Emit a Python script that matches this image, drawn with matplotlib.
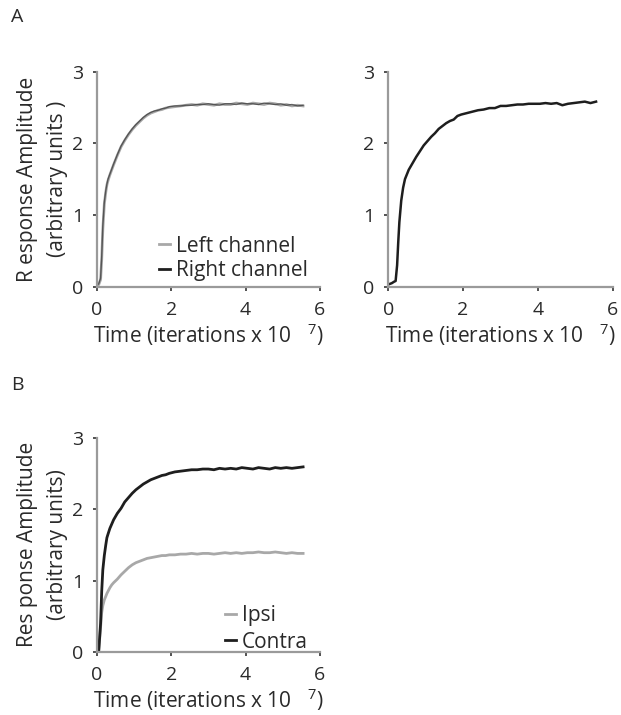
import matplotlib
matplotlib.use('Agg')
import matplotlib.pyplot as plt

plt.rcParams['font.family'] = ['Open Sans', 'DejaVu Sans']
plt.rcParams['mathtext.fontset'] = 'custom'
plt.rcParams['mathtext.rm'] = 'Open Sans'

# time points (iterations x 10^7), shared by all curves
t = [0.0, 0.05, 0.1, 0.13, 0.16, 0.2, 0.24, 0.27, 0.3, 0.35,
     0.4, 0.45, 0.55, 0.65, 0.75, 0.85, 0.95, 1.05, 1.15, 1.25,
     1.35, 1.45, 1.55, 1.65, 1.75, 1.85, 1.95, 2.1, 2.25, 2.4,
     2.55, 2.7, 2.85, 3.0, 3.15, 3.3, 3.45, 3.6, 3.75, 3.9,
     4.05, 4.2, 4.35, 4.5, 4.65, 4.8, 4.95, 5.1, 5.25, 5.4,
     5.55]

# panel A, left: left / right channel
a_left = [0.02, 0.03, 0.10, 0.38, 0.80, 1.15, 1.32, 1.42, 1.48, 1.56,
          1.63, 1.70, 1.83, 1.95, 2.04, 2.12, 2.19, 2.25, 2.30, 2.35,
          2.39, 2.42, 2.44, 2.46, 2.47, 2.49, 2.50, 2.51, 2.52, 2.53,
          2.54, 2.53, 2.55, 2.54, 2.53, 2.55, 2.54, 2.54, 2.56, 2.55,
          2.54, 2.56, 2.55, 2.54, 2.56, 2.55, 2.53, 2.54, 2.52, 2.53,
          2.52]
a_right = [0.02, 0.04, 0.12, 0.42, 0.85, 1.18, 1.34, 1.43, 1.50, 1.57,
           1.64, 1.71, 1.84, 1.96, 2.05, 2.13, 2.20, 2.26, 2.31, 2.36,
           2.40, 2.43, 2.45, 2.46, 2.48, 2.49, 2.51, 2.52, 2.52, 2.53,
           2.53, 2.54, 2.54, 2.55, 2.54, 2.53, 2.55, 2.55, 2.54, 2.56,
           2.55, 2.55, 2.54, 2.56, 2.55, 2.54, 2.55, 2.53, 2.54, 2.52,
           2.53]

# panel A, right
a2 = [0.03, 0.04, 0.05, 0.06, 0.07, 0.08, 0.30, 0.62, 0.90, 1.20,
      1.38, 1.50, 1.63, 1.72, 1.81, 1.89, 1.97, 2.03, 2.09, 2.14,
      2.20, 2.24, 2.28, 2.31, 2.33, 2.38, 2.40, 2.42, 2.44, 2.46,
      2.47, 2.49, 2.49, 2.52, 2.52, 2.53, 2.54, 2.54, 2.55, 2.55,
      2.55, 2.56, 2.55, 2.56, 2.53, 2.55, 2.56, 2.57, 2.58, 2.56,
      2.58]

# panel B: ipsi / contra
ipsi = [0.0, 0.02, 0.35, 0.55, 0.65, 0.73, 0.78, 0.82, 0.85, 0.90,
        0.94, 0.97, 1.02, 1.08, 1.13, 1.18, 1.22, 1.25, 1.27, 1.29,
        1.31, 1.32, 1.33, 1.34, 1.35, 1.35, 1.36, 1.36, 1.37, 1.37,
        1.38, 1.37, 1.38, 1.38, 1.37, 1.38, 1.39, 1.38, 1.39, 1.38,
        1.39, 1.39, 1.40, 1.39, 1.39, 1.40, 1.39, 1.38, 1.39, 1.38,
        1.38]
contra = [0.0, 0.02, 0.40, 0.85, 1.15, 1.35, 1.50, 1.60, 1.65, 1.73,
          1.79, 1.85, 1.94, 2.01, 2.10, 2.16, 2.22, 2.27, 2.31, 2.35,
          2.38, 2.41, 2.43, 2.45, 2.47, 2.48, 2.50, 2.52, 2.53, 2.54,
          2.55, 2.55, 2.56, 2.56, 2.55, 2.57, 2.56, 2.57, 2.56, 2.58,
          2.57, 2.56, 2.58, 2.57, 2.56, 2.58, 2.57, 2.58, 2.57, 2.58,
          2.59]

xticks = [0, 2, 4, 6]
yticks = [0, 1, 2, 3]
xlab = r'Time (iterations x 10   $^{7}$)'

GRAY = '#a8a8a8'
BLACK = '#1e1e1e'
TXT = '#2a2a2a'
FS = 15


def style(ax):
    ax.set_xlim(0, 6)
    ax.set_ylim(0, 3)
    ax.set_xticks(xticks)
    ax.set_yticks(yticks)
    for s in ['top', 'right']:
        ax.spines[s].set_visible(False)
    for s in ['left', 'bottom']:
        ax.spines[s].set_color('#9a9a9a')
        ax.spines[s].set_linewidth(1.6)
    ax.tick_params(direction='out', length=3, width=1.2, color='#333333',
                   labelsize=14, labelcolor=TXT, pad=7)
    ax.set_xlabel(xlab, fontsize=FS, color=TXT, labelpad=2)


fig = plt.figure(figsize=(6.21, 7.15), dpi=100)

ax1 = fig.add_axes([0.156, 0.599, 0.359, 0.301])
ax1.plot(t, a_left, color=GRAY, lw=2, label='Left channel')
ax1.plot(t, a_right, color=BLACK, lw=1.0, alpha=0.6, label='Right channel')
style(ax1)
ax1.set_ylabel('R esponse Amplitude\n(arbitrary units )', fontsize=FS,
               color=TXT, labelpad=3, linespacing=1.55)
leg = ax1.legend(loc='lower right', bbox_to_anchor=(1.03, -0.06),
                 frameon=False, fontsize=FS, handlelength=0.5,
                 handletextpad=0.3, labelspacing=0.15)
leg.get_lines()[1].set_alpha(1)
leg.get_lines()[1].set_linewidth(2)
for txt in leg.get_texts():
    txt.set_color(TXT)

ax2 = fig.add_axes([0.625, 0.599, 0.362, 0.301])
ax2.plot(t, a2, color=BLACK, lw=1.8)
style(ax2)

ax3 = fig.add_axes([0.156, 0.088, 0.359, 0.300])
ax3.plot(t, ipsi, color=GRAY, lw=2, label='Ipsi')
ax3.plot(t, contra, color=BLACK, lw=2, label='Contra')
style(ax3)
ax3.set_ylabel('Res ponse Amplitude\n(arbitrary units)', fontsize=FS,
               color=TXT, labelpad=3, linespacing=1.55)
leg = ax3.legend(loc='lower right', bbox_to_anchor=(1.03, -0.09),
                 frameon=False, fontsize=FS, handlelength=0.5,
                 handletextpad=0.3, labelspacing=0.25)
for txt in leg.get_texts():
    txt.set_color(TXT)

fig.text(0.018, 0.976, 'A', fontsize=14, color=TXT, va='center')
fig.text(0.018, 0.462, 'B', fontsize=14, color=TXT, va='center')

fig.savefig('out.png', dpi=100)
